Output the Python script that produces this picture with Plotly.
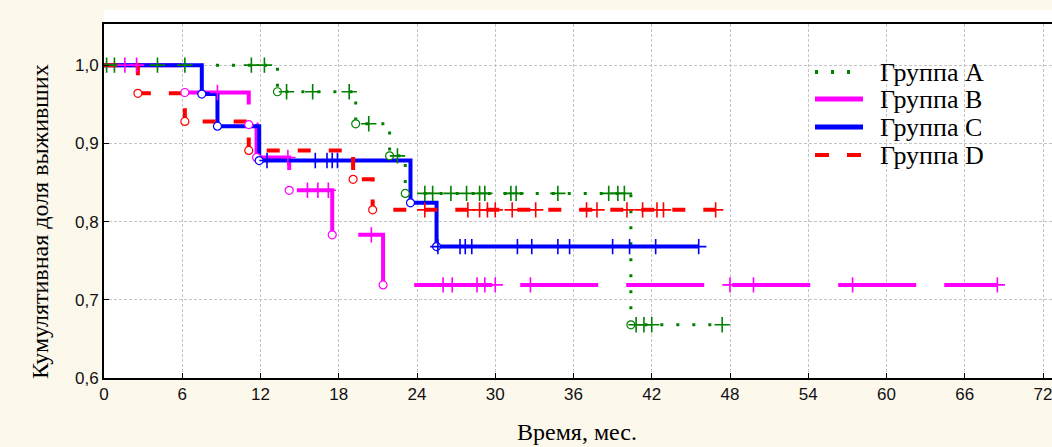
import plotly.graph_objects as go

# ---------------- data ----------------
groups = ["Группа A", "Группа B", "Группа C", "Группа D"]
colors = ["#008000", "#ff00ff", "#0000ff", "#ff0000"]

a_event_t = [13.3, 19.3, 21.9, 23.1, 40.4]
a_event_s = [0.966, 0.925, 0.884, 0.836, 0.668]
a_cens_t = [0.2, 0.8, 4.1, 6.2, 11.3, 12.3, 14.0, 16.0, 18.8, 20.3, 22.5,
            24.6, 25.2, 26.6, 27.8, 28.8, 29.2, 31.2, 31.6, 34.8, 38.7, 39.4,
            39.9, 40.8, 41.4, 42.0, 47.4]

b_event_t = [6.2, 11.1, 11.7, 14.2, 17.5, 21.4]
b_event_s = [0.965, 0.924, 0.882, 0.840, 0.783, 0.719]
b_cens_t = [1.6, 2.5, 8.7, 14.1, 15.6, 16.4, 17.2, 20.5, 26.0, 26.7, 28.6,
            29.2, 30.0, 32.7, 48.0, 49.8, 57.4, 68.5]

c_event_t = [7.5, 8.7, 11.9, 23.5, 25.5]
c_event_s = [0.963, 0.922, 0.878, 0.824, 0.768]
c_cens_t = [12.5, 16.2, 17.1, 17.5, 17.9, 25.6, 27.3, 27.7, 28.2, 31.7, 32.8,
            34.8, 35.7, 39.0, 40.3, 42.3, 45.6]

d_event_t = [2.6, 6.2, 11.1, 19.1, 20.6]
d_event_s = [0.964, 0.928, 0.891, 0.854, 0.815]
d_cens_t = [24.6, 27.9, 28.8, 29.4, 30.0, 31.3, 33.1, 37.0, 37.8, 40.1, 41.3,
            42.4, 42.9, 46.9]

x_tick_vals = [0, 6, 12, 18, 24, 30, 36, 42, 48, 54, 60, 66, 72]
x_tick_text = ["0", "6", "12", "18", "24", "30", "36", "42", "48", "54", "60", "66", "72"]
y_tick_vals = [0.6, 0.7, 0.8, 0.9, 1.0]
y_tick_text = ["0,6", "0,7", "0,8", "0,9", "1,0"]

x_title = "Время, мес."
y_title = "Кумулятивная доля выживших"

# ---------------- styles ----------------
line_widths = [3, 4, 4, 4]
line_dashes = ["3px,13px", "78px,28px", "solid", "13px,18px"]
legend_dashes = ["3px,13px", "solid", "solid", "14px,18px"]

series = [
    (a_event_t, a_event_s, a_cens_t),
    (b_event_t, b_event_s, b_cens_t),
    (c_event_t, c_event_s, c_cens_t),
    (d_event_t, d_event_s, d_cens_t),
]


def surv_at(t, ev_t, ev_s):
    s = 1.0
    for et, es in zip(ev_t, ev_s):
        if et <= t:
            s = es
    return s


fig = go.Figure()

# step lines
for (ev_t, ev_s, cens_t), name, col, lw, dash in zip(series, groups, colors, line_widths, line_dashes):
    end_t = max(cens_t + ev_t)
    xs = [0.0] + list(ev_t) + [end_t]
    ys = [1.0] + list(ev_s) + [ev_s[-1]]
    fig.add_trace(go.Scatter(x=xs, y=ys, mode="lines", name=name,
                             line=dict(color=col, width=lw, dash=dash, shape="hv"),
                             showlegend=False, hoverinfo="skip"))

# markers: events (open circles) and censored (+)
for (ev_t, ev_s, cens_t), name, col in zip(series, groups, colors):
    fig.add_trace(go.Scatter(x=ev_t, y=ev_s, mode="markers", showlegend=False,
                             marker=dict(symbol="circle", size=8, color="white",
                                         line=dict(color=col, width=1.2)),
                             hoverinfo="skip"))
    cy = [surv_at(t, ev_t, ev_s) for t in cens_t]
    fig.add_trace(go.Scatter(x=cens_t, y=cy, mode="markers", showlegend=False,
                             marker=dict(symbol="cross-thin", size=11,
                                         line=dict(color=col, width=1.6)),
                             hoverinfo="skip"))

# ---------------- layout ----------------
W, H = 1052, 447
L, R, T, B = 104, 0, 24, 69
pw, ph = W - L - R, H - T - B


def px_x(px):
    return (px - L) / pw


def px_y(py):
    return (H - B - py) / ph


tick_font = dict(family="Liberation Sans Narrow, Arial Narrow, Liberation Sans, sans-serif",
                 size=17, color="#111111")
serif = "Liberation Serif, Times New Roman, serif"

shapes = [
    # white strip above the plot frame
    dict(type="rect", xref="paper", yref="paper", x0=0, x1=1, y0=1, y1=px_y(10),
         fillcolor="white", line=dict(width=0), layer="below"),
]
annotations = [
    dict(text=x_title, xref="paper", yref="paper", x=px_x(577), y=px_y(432),
         xanchor="center", yanchor="middle", showarrow=False,
         font=dict(family=serif, size=24, color="black")),
    dict(text=y_title, xref="paper", yref="paper", x=px_x(40), y=px_y(222),
         xanchor="center", yanchor="middle", showarrow=False, textangle=-90,
         font=dict(family=serif, size=24, color="black")),
]

# custom legend
leg_y = [72, 99, 127, 155]
for name, col, ly, ld in zip(groups, colors, leg_y, legend_dashes):
    shapes.append(dict(type="line", xref="paper", yref="paper",
                       x0=px_x(815), x1=px_x(863), y0=px_y(ly), y1=px_y(ly),
                       line=dict(color=col, width=5 if ld == "solid" else 4, dash=ld)))
    annotations.append(dict(text=name, xref="paper", yref="paper", x=px_x(878), y=px_y(ly),
                            xanchor="left", yanchor="middle", showarrow=False,
                            font=dict(family=serif, size=26, color="black")))

x_max = 72 + (W - R - 1043) / ((1043 - L) / 72.0)

fig.update_layout(
    width=W, height=H,
    margin=dict(l=L, r=R, t=T, b=B, pad=0),
    paper_bgcolor="#fdf8ec",
    plot_bgcolor="white",
    showlegend=False,
    shapes=shapes,
    annotations=annotations,
    xaxis=dict(range=[0, x_max], tickvals=x_tick_vals, ticktext=x_tick_text,
               showgrid=True, gridcolor="#c4c4c4", griddash="3px,2px", gridwidth=1,
               zeroline=False, showline=True, linecolor="black", linewidth=2,
               mirror=True, ticks="inside", ticklen=5, tickwidth=1, tickcolor="black",
               tickfont=tick_font, ticklabeloverflow="allow", fixedrange=True),
    yaxis=dict(range=[0.6, 1.0526], tickvals=y_tick_vals, ticktext=y_tick_text,
               showgrid=True, gridcolor="#c4c4c4", griddash="3px,2px", gridwidth=1,
               zeroline=False, showline=True, linecolor="black", linewidth=2,
               ticks="inside", ticklen=5, tickwidth=1, tickcolor="black",
               tickfont=tick_font, fixedrange=True),
)

fig.write_html(
    "out.html",
    config={"displayModeBar": False},
    post_script="document.body.style.margin='0';document.body.style.background='#fdf8ec';"
                "document.documentElement.style.overflow='hidden';",
)
